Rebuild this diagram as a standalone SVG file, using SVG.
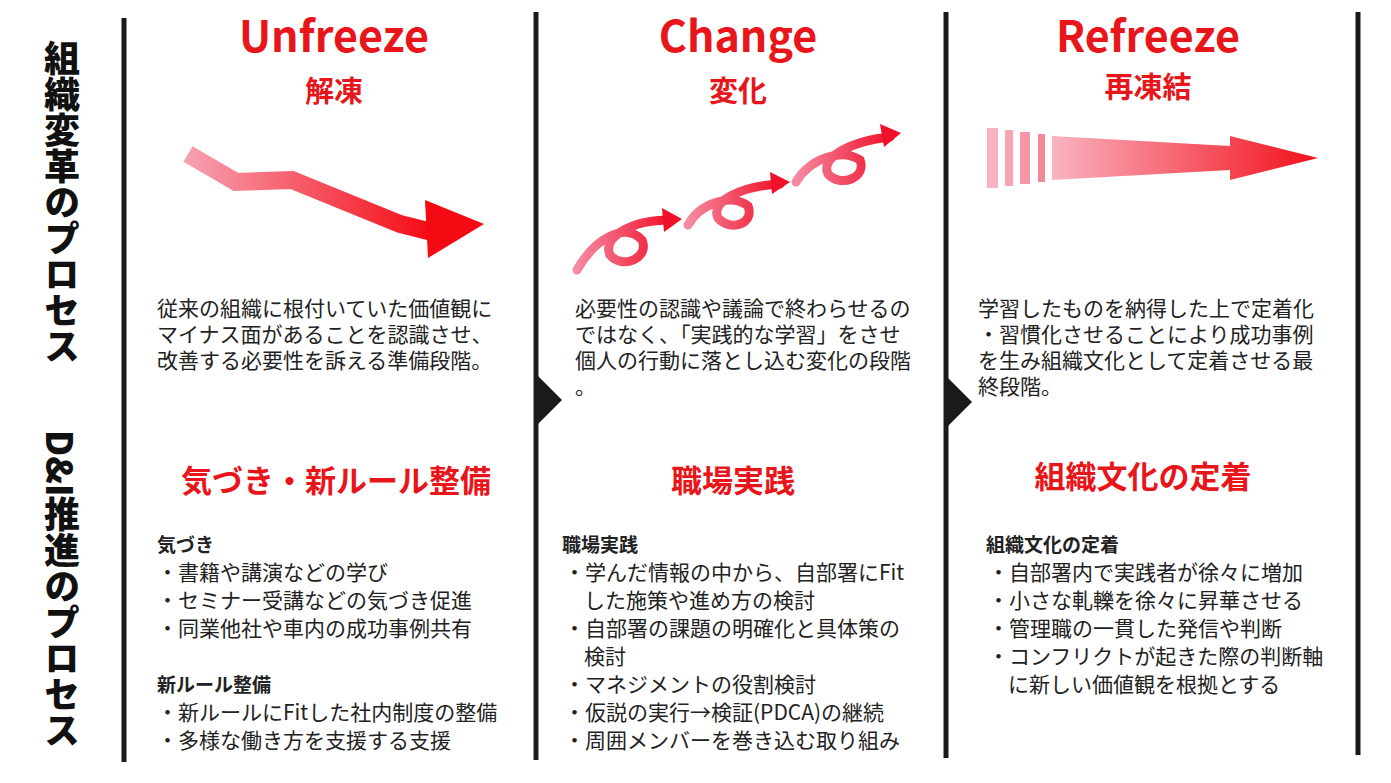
<svg xmlns="http://www.w3.org/2000/svg" width="1391" height="783" viewBox="0 0 1391 783">
<style>
.vl{stroke:#1a1a1a;stroke-width:5}
.h1{font-family:"Noto Sans CJK JP","Noto Sans",sans-serif;font-weight:700;fill:#e8161b;text-anchor:middle}
.t{font-family:"Noto Sans CJK JP",sans-serif;font-size:21px;fill:#222}
.b{font-family:"Noto Sans CJK JP",sans-serif;font-size:19px;fill:#222;font-weight:700}
.side{font-family:"Noto Sans CJK JP",sans-serif;font-size:36px;font-weight:900;fill:#111;writing-mode:vertical-rl}
.curl{fill:none;stroke:url(#g2);stroke-width:9;stroke-linecap:round}
</style>
<defs>
<linearGradient id="g1" x1="0" x2="1"><stop offset="0" stop-color="#f7a0b0"/><stop offset="1" stop-color="#f50a14"/></linearGradient>
<linearGradient id="g2" x1="0" x2="1"><stop offset="0" stop-color="#f58aa0"/><stop offset="1" stop-color="#f0102a"/></linearGradient>
<linearGradient id="g3" x1="0" x2="1"><stop offset="0" stop-color="#f9b3c0"/><stop offset="1" stop-color="#f2101a"/></linearGradient>
</defs>
<rect width="1391" height="783" fill="#fff"/>
<g id="side">
<text class="side" x="62" y="40">組織変革のプロセス</text>
<text class="side" x="62" y="430">D&amp;I推進のプロセス</text>
</g>
<g id="connectors">
<line class="vl" x1="124" y1="18" x2="124" y2="762"/>
<line class="vl" x1="536" y1="12" x2="536" y2="760"/>
<line class="vl" x1="946" y1="12" x2="946" y2="758"/>
<line class="vl" x1="1358" y1="12" x2="1358" y2="755"/>
<polygon points="534,372 562,400 534,428" fill="#1a1a1a"/>
<polygon points="944,374 972,402 944,430" fill="#1a1a1a"/>
</g>
<g id="unfreeze">
<text class="h1" x="334" y="52" font-size="43" font-family="Lato,'Noto Sans',sans-serif">Unfreeze</text>
<text class="h1" x="334" y="102" font-size="29">解凍</text>
<polyline points="188,154 236,182 292,180 400,224 432,232" fill="none" stroke="url(#g1)" stroke-width="18" stroke-linejoin="miter"/>
<polygon points="425,200 484,224 428,258" fill="#f50a14"/>
<text class="t"><tspan x="157" y="316">従来の組織に根付いていた価値観に</tspan><tspan x="157" y="342">マイナス面があることを認識させ、</tspan><tspan x="157" y="368">改善する必要性を訴える準備段階。</tspan></text>
<text class="h1" x="336" y="492" font-size="31">気づき・新ルール整備</text>
<text class="b" x="157" y="552">気づき</text>
<text class="t"><tspan x="157" y="580">・書籍や講演などの学び</tspan><tspan x="157" y="608">・セミナー受講などの気づき促進</tspan><tspan x="157" y="636">・同業他社や車内の成功事例共有</tspan></text>
<text class="b" x="157" y="692">新ルール整備</text>
<text class="t"><tspan x="157" y="720">・新ルールにFitした社内制度の整備</tspan><tspan x="157" y="748">・多様な働き方を支援する支援</tspan></text>
</g>
<g id="change">
<text class="h1" x="738" y="52" font-size="43" font-family="Lato,'Noto Sans',sans-serif">Change</text>
<text class="h1" x="738" y="102" font-size="29">変化</text>
<path class="curl" d="M577,270 C595,238 625,222 642,240 C650,258 622,270 610,255 C602,238 630,220 670,220"/>
<polygon points="662,208 682,219 664,232" fill="#f0102a"/>
<path class="curl" d="M688,225 C700,203 732,193 748,206 C755,224 730,232 718,218 C710,202 740,186 780,184"/>
<polygon points="770,172 790,182 772,194" fill="#f0102a"/>
<path class="curl" d="M796,182 C810,158 842,148 860,160 C867,178 840,188 828,174 C820,158 850,141 890,137"/>
<polygon points="880,124 901,133 884,147" fill="#f0102a"/>
<text class="t"><tspan x="575" y="316">必要性の認識や議論で終わらせるの</tspan><tspan x="575" y="342">ではなく、「実践的な学習」をさせ</tspan><tspan x="575" y="368">個人の行動に落とし込む変化の段階</tspan><tspan x="575" y="394">。</tspan></text>
<text class="h1" x="733" y="492" font-size="31">職場実践</text>
<text class="b" x="562" y="552">職場実践</text>
<text class="t"><tspan x="564" y="580">・学んだ情報の中から、自部署にFit</tspan><tspan x="584" y="608">した施策や進め方の検討</tspan><tspan x="564" y="636">・自部署の課題の明確化と具体策の</tspan><tspan x="584" y="664">検討</tspan><tspan x="564" y="692">・マネジメントの役割検討</tspan><tspan x="564" y="720">・仮説の実行→検証(PDCA)の継続</tspan><tspan x="564" y="748">・周囲メンバーを巻き込む取り組み</tspan></text>
</g>
<g id="refreeze">
<text class="h1" x="1148" y="52" font-size="43" font-family="Lato,'Noto Sans',sans-serif">Refreeze</text>
<text class="h1" x="1148" y="98" font-size="29">再凍結</text>
<rect x="987" y="128" width="11" height="60" fill="#f9b3c0"/>
<rect x="1005" y="130" width="8" height="56" fill="#f8a4b4"/>
<rect x="1020" y="132" width="10" height="52" fill="#f796a8"/>
<rect x="1038" y="134" width="7" height="48" fill="#f6889c"/>
<polygon points="1052,136 1230,146 1230,136 1318,158 1230,180 1230,170 1052,180" fill="url(#g3)"/>
<text class="t"><tspan x="978" y="316">学習したものを納得した上で定着化</tspan><tspan x="978" y="342">・習慣化させることにより成功事例</tspan><tspan x="978" y="368">を生み組織文化として定着させる最</tspan><tspan x="978" y="394">終段階。</tspan></text>
<text class="h1" x="1143" y="488" font-size="31">組織文化の定着</text>
<text class="b" x="986" y="552">組織文化の定着</text>
<text class="t"><tspan x="988" y="580">・自部署内で実践者が徐々に増加</tspan><tspan x="988" y="608">・小さな軋轢を徐々に昇華させる</tspan><tspan x="988" y="636">・管理職の一貫した発信や判断</tspan><tspan x="988" y="664">・コンフリクトが起きた際の判断軸</tspan><tspan x="1008" y="692">に新しい価値観を根拠とする</tspan></text>
</g>
</svg>
